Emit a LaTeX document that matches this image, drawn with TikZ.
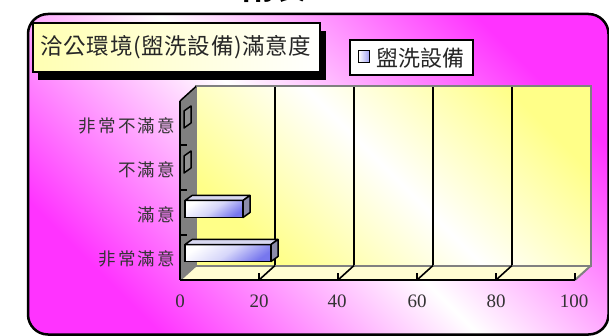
\documentclass[tikz,border=0pt]{standalone}
\usepackage{fontspec}
\setmainfont{Liberation Serif}
\newfontfamily\cjk{Noto Sans CJK TC}
\newfontfamily\cjkls[LetterSpace=12]{Noto Sans CJK TC}
\newfontfamily\cjkt[LetterSpace=3]{Noto Sans CJK TC}
\definecolor{mag}{HTML}{FF33FF}
\definecolor{yel}{HTML}{FFFF88}
\definecolor{barblue}{HTML}{7777EE}
\definecolor{bartop}{HTML}{D8D8F0}
\definecolor{barend}{HTML}{8C8CAA}
\definecolor{wallgray}{HTML}{808080}
\newcommand\drawbar[4]{% x0, x1, yt, yb
  \shade[top color=white, bottom color=barblue, middle color=white!70!barblue, shading angle=35] (#1,#3) rectangle (#2,#4);
  \draw[line width=1.8] (#1,#3) rectangle (#2,#4);
  \filldraw[fill=bartop, line width=1.5, line join=round] (#1,#3) -- ++(7,-5) -- ($(#2,#3)+(7,-5)$) -- (#2,#3) -- cycle;
  \filldraw[fill=barend, line width=1.5, line join=round] (#2,#3) -- ++(7,-5) -- ($(#2,#4)+(7,-5)$) -- (#2,#4) -- cycle;
}
\newcommand\zerobar[2]{% yt, yb
  \filldraw[fill=wallgray!85, line width=1.5, line join=round] (184,#2) -- (184,#1) -- (191,#1-5) -- (191,#2-5) -- cycle;
}
\usetikzlibrary{calc}
\tikzset{
  catlabel/.style={anchor=east, font=\cjkls\fontsize{17.5}{17.5}\selectfont, text=black!80, inner sep=0},
  numlabel/.style={font=\fontsize{19}{19}\selectfont, text=black!80, inner sep=0},
  grid/.style={line width=2},
  floortick/.style={line width=1.6},
}
\begin{document}
\begin{tikzpicture}[x=1pt, y=-1pt]
\path[use as bounding box] (0,0) rectangle (609,336);
\clip (0,0) rectangle (609,336);
\fill[white] (0,0) rectangle (609,336);
% cut-off heading
\node[anchor=base, font=\cjk\bfseries\fontsize{32}{32}\selectfont, inner sep=0] (heading) at (290,-0.5) {附表二};
% outer rounded frame
\shade[rounded corners=20, top color=mag, bottom color=mag, middle color=white, shading angle=-45] (28,14) rectangle (608.5,334.5);
\draw[line width=2.5, rounded corners=20] (28,14) rectangle (608.5,334.5);

% back wall
\shade[top color=yel, bottom color=yel, middle color=white, shading angle=-45] (196,86.5) rectangle (591,265.5);
\foreach \k in {1,2,3,4} { \draw[grid] (196+79*\k,86.5) -- (196+79*\k,265.5); }
\draw[wallgray, line width=2] (196,86.5) rectangle (591,265.5);
% floor
\fill[yellow!18] (180,280) -- (196,265.5) -- (591,265.5) -- (575,280) -- cycle;
\draw[wallgray, line width=2] (180,280) -- (196,265.5);
\draw[wallgray, line width=2] (575,280) -- (591,265.5);
\draw[wallgray, line width=2] (196,265.5) -- (591,265.5);
\foreach \k in {1,2,3,4} {
  \draw[floortick] (196+79*\k,265.5) -- (180+79*\k,280);
  \draw[floortick] (180+79*\k,273) -- (180+79*\k,280);
}
\draw[floortick] (575,273) -- (575,280);
\draw[line width=2] (180,280) -- (575,280);
% side wall
\fill[wallgray] (180,101) -- (196,86.5) -- (196,265.5) -- (180,280) -- cycle;
\draw[line width=1.5] (180,101) -- (196,86.5);
\draw[line width=2.5] (180,101) -- (180,280);
\foreach \y in {145,190,235} { \draw[line width=2] (180,\y) -- (187,\y); }

% bars
\zerobar{111}{128}
\zerobar{156}{173}
\drawbar{185}{243}{200.5}{217.5}
\drawbar{185}{271}{244.5}{261.5}

% category labels
\node[catlabel] (c1) at (175,125.5) {非常不滿意};
\node[catlabel] (c2) at (175,170) {不滿意};
\node[catlabel] (c3) at (175,214.5) {滿意};
\node[catlabel] (c4) at (175,258.5) {非常滿意};

% value labels
\node[numlabel] (n0) at (180,301) {0};
\node[numlabel] (n20) at (259,301) {20};
\node[numlabel] (n40) at (337,301) {40};
\node[numlabel] (n60) at (417,301) {60};
\node[numlabel] (n80) at (496,301) {80};
\node[numlabel] (n100) at (574,301) {100};

% title box
\fill[black] (38,31) rectangle (325.5,80);
\node[draw, line width=2, left color=yellow!30, right color=white, minimum width=287, minimum height=48.5, inner sep=0,
      font=\cjkt\fontsize{22.5}{22.5}\selectfont, text=black!85] (title) at (176,47.5) {洽公環境(盥洗設備)滿意度};

% legend
\node[draw, line width=2, fill=white, minimum width=122.5, minimum height=35, inner sep=0] (legend) at (411.5,57.5) {};
\node[draw, line width=1.8, left color=white, right color=barblue!70, minimum width=11, minimum height=12, inner sep=0] (legsym) at (364,56.5) {};
\node[anchor=west, font=\cjk\fontsize{22}{22}\selectfont, text=black!85, inner sep=0] (legtxt) at (376,58) {盥洗設備};
\end{tikzpicture}
\end{document}
